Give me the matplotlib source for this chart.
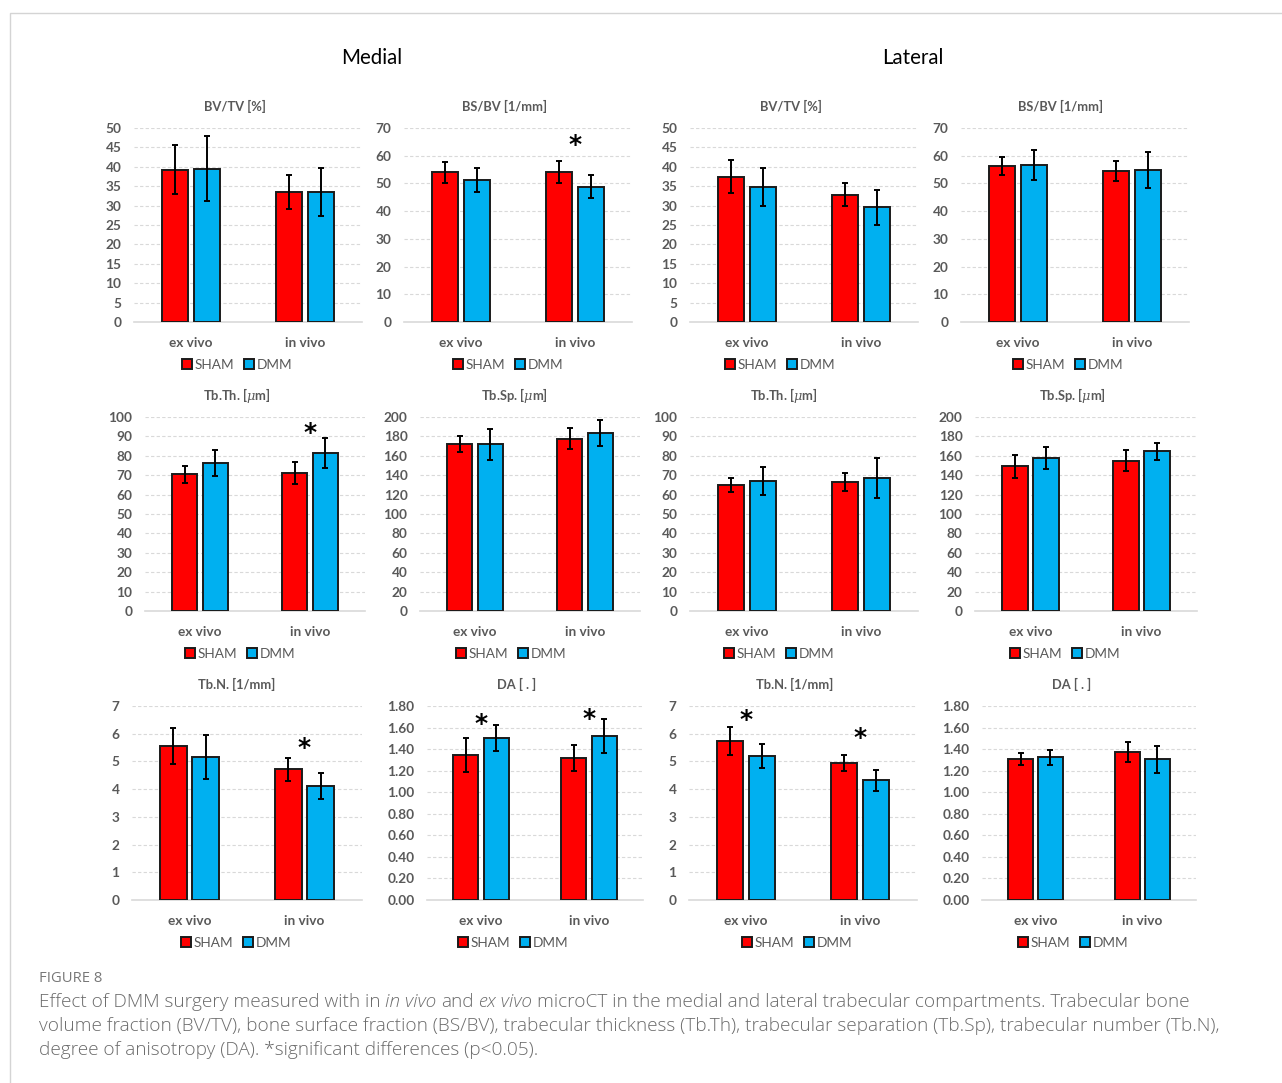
import matplotlib
matplotlib.use("Agg")
import matplotlib.pyplot as plt
from matplotlib.patches import Patch, Rectangle
from matplotlib.ticker import FormatStrFormatter

# ---------------- data ----------------
categories = ["ex vivo", "in vivo"]
group_labels = ["SHAM", "DMM"]

# Medial compartment
med_bvtv_sham, med_bvtv_sham_err = [39.3, 33.5], [6.2, 4.5]
med_bvtv_dmm, med_bvtv_dmm_err = [39.5, 33.5], [8.4, 6.3]
med_bsbv_sham, med_bsbv_sham_err = [54.0, 54.2], [3.9, 3.9]
med_bsbv_dmm, med_bsbv_dmm_err = [51.2, 48.8], [4.2, 4.2]
med_tbth_sham, med_tbth_sham_err = [70.5, 71.0], [4.5, 5.6]
med_tbth_dmm, med_tbth_dmm_err = [76.3, 81.5], [6.8, 7.7]
med_tbsp_sham, med_tbsp_sham_err = [172.0, 177.5], [8.0, 11.0]
med_tbsp_dmm, med_tbsp_dmm_err = [172.0, 183.5], [16.0, 13.5]
med_tbn_sham, med_tbn_sham_err = [5.55, 4.72], [0.66, 0.41]
med_tbn_dmm, med_tbn_dmm_err = [5.15, 4.12], [0.80, 0.47]
med_da_sham, med_da_sham_err = [1.345, 1.32], [0.155, 0.12]
med_da_dmm, med_da_dmm_err = [1.505, 1.52], [0.12, 0.157]

# Lateral compartment
lat_bvtv_sham, lat_bvtv_sham_err = [37.5, 32.8], [4.2, 3.0]
lat_bvtv_dmm, lat_bvtv_dmm_err = [34.8, 29.6], [4.9, 4.5]
lat_bsbv_sham, lat_bsbv_sham_err = [56.3, 54.6], [3.3, 3.6]
lat_bsbv_dmm, lat_bsbv_dmm_err = [56.7, 55.0], [5.4, 6.5]
lat_tbth_sham, lat_tbth_sham_err = [65.0, 66.5], [3.8, 4.4]
lat_tbth_dmm, lat_tbth_dmm_err = [67.0, 68.5], [7.4, 10.3]
lat_tbsp_sham, lat_tbsp_sham_err = [149.0, 155.0], [11.7, 11.0]
lat_tbsp_dmm, lat_tbsp_dmm_err = [157.5, 164.5], [11.5, 9.0]
lat_tbn_sham, lat_tbn_sham_err = [5.73, 4.94], [0.50, 0.29]
lat_tbn_dmm, lat_tbn_dmm_err = [5.20, 4.32], [0.42, 0.37]
lat_da_sham, lat_da_sham_err = [1.31, 1.375], [0.055, 0.09]
lat_da_dmm, lat_da_dmm_err = [1.325, 1.305], [0.07, 0.125]

# significance markers: (category index, height)
med_bsbv_stars = [(1, 63.9)]
med_tbth_stars = [(1, 92.0)]
med_tbn_stars = [(1, 5.49)]
med_da_stars = [(0, 1.63), (1, 1.68)]
lat_tbn_stars = [(0, 6.5), (1, 5.85)]

titles = ["BV/TV [%]", "BS/BV [1/mm]", "Tb.Th. [$\\mu$m]", "Tb.Sp. [$\\mu$m]",
          "Tb.N. [1/mm]", "DA [ . ]"]
y_max = [50, 70, 100, 200, 7, 1.8]
y_step = [5, 10, 10, 20, 1, 0.2]

# ---------------- style ----------------
W, H = 1282, 1083
RED = "#ff0000"
BLUE = "#00b0f0"
GRAY = "#595959"
CHART_FONT = ["Lato", "DejaVu Sans"]
plt.rcParams["font.family"] = CHART_FONT
plt.rcParams["mathtext.fontset"] = "custom"
plt.rcParams["mathtext.it"] = "DejaVu Serif:italic"

fig = plt.figure(figsize=(W / 100, H / 100), dpi=100)
fig.patch.set_facecolor("white")

# outer frame of the figure card
fig.add_artist(Rectangle((10 / W, -0.05), 1.1, 1 - 13 / H + 0.05,
                         transform=fig.transFigure, fill=False,
                         edgecolor="#d4d4d4", linewidth=1.0))


def panel(box, title, title_x, legend_x, sham, sham_err, dmm, dmm_err,
          ymax, ystep, stars=(), fmt=None):
    left, right, top, bottom = box
    ax = fig.add_axes([left / W, 1 - bottom / H, (right - left) / W, (bottom - top) / H])
    x = list(range(len(categories)))
    w, off = 0.23, 0.14
    ekw = dict(ecolor="black", elinewidth=1.4, capsize=2, capthick=1.4)
    ax.bar([i - off for i in x], sham, width=w, color=RED, edgecolor="#1a1a1a",
           linewidth=1.4, yerr=sham_err, error_kw=ekw, zorder=3)
    ax.bar([i + off for i in x], dmm, width=w, color=BLUE, edgecolor="#1a1a1a",
           linewidth=1.4, yerr=dmm_err, error_kw=ekw, zorder=3)
    for cx, cy in stars:
        ax.text(cx, cy, "*", ha="center", va="center", fontsize=18,
                fontweight="bold", color="black", family=["DejaVu Sans"])
    ax.set_xlim(-0.5, 1.5)
    ax.set_ylim(0, ymax)
    n = int(round(ymax / ystep))
    ticks = [k * ystep for k in range(n + 1)]
    ax.set_yticks(ticks)
    if fmt:
        ax.yaxis.set_major_formatter(FormatStrFormatter(fmt))
    ax.set_xticks(x)
    ax.set_xticklabels(categories)
    for s in ax.spines.values():
        s.set_visible(False)
    ax.tick_params(axis="both", length=0, labelsize=9.8, labelcolor=GRAY)
    ax.tick_params(axis="y", pad=9)
    ax.tick_params(axis="x", pad=10.5)
    for lab in ax.get_xticklabels() + ax.get_yticklabels():
        lab.set_fontweight("bold")
    for t in ticks[1:]:
        ax.axhline(t, color="#d9d9d9", linewidth=0.8, linestyle=(0, (3, 2)), zorder=0)
    ax.axhline(0, color="#d9d9d9", linewidth=1.2, zorder=1, clip_on=False)
    ax.set_facecolor("none")
    fig.text(title_x / W, 1 - (top - 22) / H, title, ha="center", va="center",
             fontsize=9.3, fontweight="bold", color=GRAY)
    handles = [Patch(facecolor=RED, edgecolor="#1a1a1a", linewidth=1.4),
               Patch(facecolor=BLUE, edgecolor="#1a1a1a", linewidth=1.4)]
    leg = ax.legend(handles, group_labels, loc="center", ncol=2,
                    bbox_to_anchor=(legend_x / W, 1 - (bottom + 43) / H),
                    bbox_transform=fig.transFigure, frameon=False,
                    handlelength=0.75, handleheight=0.75, handletextpad=0.2,
                    columnspacing=0.7, prop={"size": 9.8, "family": CHART_FONT})
    for t in leg.get_texts():
        t.set_color(GRAY)
    return ax


r1 = (128, 322)
r2 = (417, 611)
r3 = (706, 900)

# Row 1
panel((134, 362) + r1, titles[0], 235, 237, med_bvtv_sham, med_bvtv_sham_err,
      med_bvtv_dmm, med_bvtv_dmm_err, y_max[0], y_step[0])
panel((404, 632) + r1, titles[1], 505, 508, med_bsbv_sham, med_bsbv_sham_err,
      med_bsbv_dmm, med_bsbv_dmm_err, y_max[1], y_step[1], med_bsbv_stars)
panel((690, 918) + r1, titles[0], 791, 780, lat_bvtv_sham, lat_bvtv_sham_err,
      lat_bvtv_dmm, lat_bvtv_dmm_err, y_max[0], y_step[0])
panel((961, 1189) + r1, titles[1], 1061, 1068, lat_bsbv_sham, lat_bsbv_sham_err,
      lat_bsbv_dmm, lat_bsbv_dmm_err, y_max[1], y_step[1])

# Row 2
panel((145, 365) + r2, titles[2], 237, 240, med_tbth_sham, med_tbth_sham_err,
      med_tbth_dmm, med_tbth_dmm_err, y_max[2], y_step[2], med_tbth_stars)
panel((420, 640) + r2, titles[3], 514, 511, med_tbsp_sham, med_tbsp_sham_err,
      med_tbsp_dmm, med_tbsp_dmm_err, y_max[3], y_step[3])
panel((690, 918) + r2, titles[2], 784, 779, lat_tbth_sham, lat_tbth_sham_err,
      lat_tbth_dmm, lat_tbth_dmm_err, y_max[2], y_step[2])
panel((975, 1197) + r2, titles[3], 1072, 1065, lat_tbsp_sham, lat_tbsp_sham_err,
      lat_tbsp_dmm, lat_tbsp_dmm_err, y_max[3], y_step[3])

# Row 3
panel((132, 362) + r3, titles[4], 237, 236, med_tbn_sham, med_tbn_sham_err,
      med_tbn_dmm, med_tbn_dmm_err, y_max[4], y_step[4], med_tbn_stars)
panel((427, 643) + r3, titles[5], 517, 513, med_da_sham, med_da_sham_err,
      med_da_dmm, med_da_dmm_err, y_max[5], y_step[5], med_da_stars, fmt="%.2f")
panel((689, 917) + r3, titles[4], 795, 797, lat_tbn_sham, lat_tbn_sham_err,
      lat_tbn_dmm, lat_tbn_dmm_err, y_max[4], y_step[4], lat_tbn_stars)
panel((982, 1196) + r3, titles[5], 1072, 1073, lat_da_sham, lat_da_sham_err,
      lat_da_dmm, lat_da_dmm_err, y_max[5], y_step[5], fmt="%.2f")

# Compartment headings
fig.text(372 / W, 1 - 58 / H, "Medial", ha="center", va="center", fontsize=14.8,
         color="black", family=CHART_FONT)
fig.text(913 / W, 1 - 58 / H, "Lateral", ha="center", va="center", fontsize=14.8,
         color="black", family=CHART_FONT)

# Caption
CAP_FONT = ["Open Sans", "DejaVu Sans"]
CAP_COLOR = "#6b6b6b"
CAP_SIZE = 13.7
fig.text(39 / W, 1 - 979 / H, "FIGURE 8", ha="left", va="center", fontsize=10.6,
         color="#777777", family=CAP_FONT)

caption_lines = [
    [("Effect of DMM surgery measured with in ", "normal"), ("in vivo", "italic"),
     (" and ", "normal"), ("ex vivo", "italic"),
     (" microCT in the medial and lateral trabecular compartments. Trabecular bone", "normal")],
    [("volume fraction (BV/TV), bone surface fraction (BS/BV), trabecular thickness (Tb.Th), "
      "trabecular separation (Tb.Sp), trabecular number (Tb.N),", "normal")],
    [("degree of anisotropy (DA). *significant differences (p<0.05).", "normal")],
]
caption_y = [1002, 1026, 1050]

renderer = fig.canvas.get_renderer()
for runs, yp in zip(caption_lines, caption_y):
    xp = 39.0
    for text, style in runs:
        lead = len(text) - len(text.lstrip(" "))
        trail = len(text) - len(text.rstrip(" "))
        core = text.strip(" ")
        sp = fig.text(0, 0, "a a", fontsize=CAP_SIZE, family=CAP_FONT, style=style)
        sp2 = fig.text(0, 0, "aa", fontsize=CAP_SIZE, family=CAP_FONT, style=style)
        space_w = sp.get_window_extent(renderer).width - sp2.get_window_extent(renderer).width
        sp.remove()
        sp2.remove()
        xp += lead * space_w
        t = fig.text(xp / W, 1 - yp / H, core, ha="left", va="center", fontsize=CAP_SIZE,
                     family=CAP_FONT, style=style, color=CAP_COLOR, fontweight="light")
        xp += t.get_window_extent(renderer).width + trail * space_w

fig.savefig("out.png", dpi=100, facecolor="white")
